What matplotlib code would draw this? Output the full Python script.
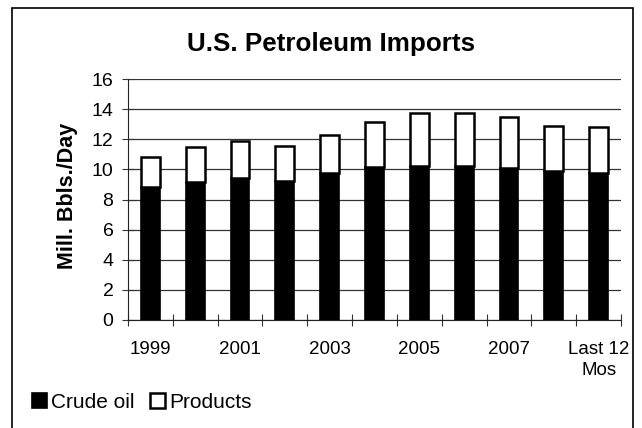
import matplotlib
matplotlib.use("Agg")
import matplotlib.pyplot as plt
import numpy as np
from matplotlib.patches import Rectangle

plt.rcParams['font.family'] = ['Liberation Sans', 'DejaVu Sans']

# data (million barrels / day)
years = ["1999", "2000", "2001", "2002", "2003", "2004", "2005", "2006", "2007", "2008", "Last 12\nMos"]
crude = [8.83, 9.16, 9.43, 9.23, 9.74, 10.18, 10.22, 10.22, 10.11, 9.87, 9.78]
total = [10.84, 11.46, 11.88, 11.55, 12.26, 13.17, 13.76, 13.72, 13.45, 12.90, 12.79]
products = [t - c for t, c in zip(total, crude)]
shown_labels = ["1999", "", "2001", "", "2003", "", "2005", "", "2007", "", "Last 12\nMos"]

W, H = 642, 428
fig = plt.figure(figsize=(W / 100, H / 100), dpi=100)
fig.patches.append(Rectangle((12/W, -0.01), 621/W, 1 - 8/H + 0.01, transform=fig.transFigure,
                             fill=False, edgecolor='black', linewidth=1.2))

ax = fig.add_axes([128/W, 1 - 320/H, (621-128)/W, (320-79)/H])
x = np.arange(len(years))
ax.bar(x, crude, width=0.42, color='black', edgecolor='black', linewidth=1.2, label='Crude oil', zorder=3)
ax.bar(x, products, bottom=crude, width=0.42, color='white', edgecolor='black', linewidth=1.8,
       label='Products', zorder=3)

ax.set_xlim(-0.5, len(years) - 0.5)
ax.set_ylim(0, 16)
ax.set_yticks(range(0, 17, 2))
ax.yaxis.grid(True, color='#333333', linewidth=0.9, zorder=0)
for s in ['top', 'right']:
    ax.spines[s].set_visible(False)
ax.spines['left'].set_color('#222222')
ax.spines['bottom'].set_color('#222222')

ax.set_xticks(np.arange(-0.5, len(years), 1.0))
ax.set_xticklabels([])
ax.tick_params(axis='x', which='major', length=9, direction='inout', color='#333333')
ax.set_xticks(x, minor=True)
ax.set_xticklabels(shown_labels, minor=True, fontsize=13.5, linespacing=1.3)
ax.tick_params(axis='x', which='minor', length=0, pad=15)
ax.tick_params(axis='y', length=9, direction='inout', labelsize=14, color='#333333', pad=6)

fig.text(67/W, 1 - 196/H, "Mill. Bbls./Day", rotation=90, ha='center', va='center',
         fontsize=15.5, fontweight='bold')
fig.text(331/W, 1 - 44/H, "U.S. Petroleum Imports", ha='center', va='center',
         fontsize=18.75, fontweight='bold')

ax.legend(loc='center left', bbox_to_anchor=(32/W, 1 - 402/H), bbox_transform=fig.transFigure,
          ncol=2, frameon=False, fontsize=15, handlelength=0.72, handleheight=0.72,
          handletextpad=0.2, columnspacing=0.75, borderaxespad=0, borderpad=0)

fig.savefig("out.png", dpi=100)
